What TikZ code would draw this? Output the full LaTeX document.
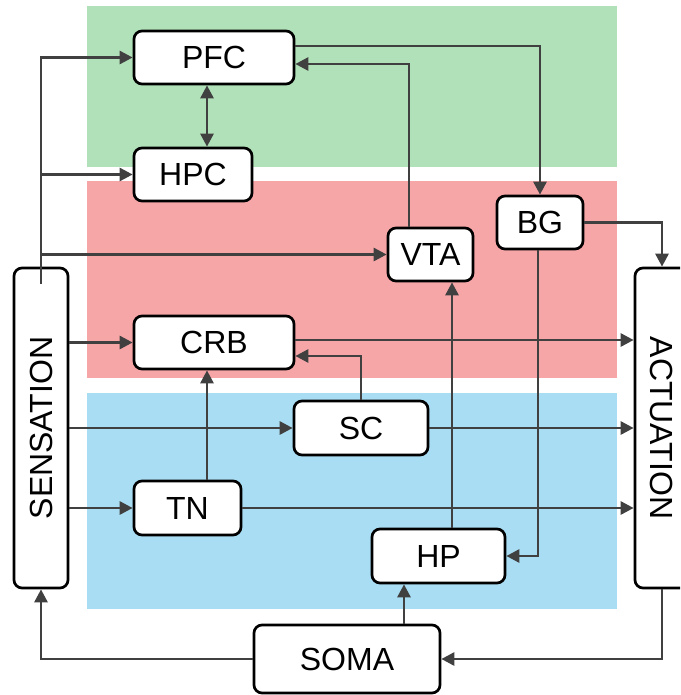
\documentclass[tikz,border=0pt]{standalone}
\usepackage{fontspec}
\setmainfont{Liberation Sans}
\usetikzlibrary{arrows.meta}
\definecolor{bandgreen}{HTML}{B1E1B9}
\definecolor{bandred}{HTML}{F7A6A8}
\definecolor{bandblue}{HTML}{A9DDF3}
\definecolor{wire}{HTML}{404040}
\begin{document}
\begin{tikzpicture}[x=1pt,y=-1pt,
  box/.style={draw=black,line width=2.7pt,rounded corners=8pt,fill=white,inner sep=0pt,
    font=\fontsize{32}{36}\selectfont},
  arr/.style={draw=wire,line width=2.8pt,-{Triangle[length=13pt,width=13pt]}},
  biarr/.style={draw=wire,line width=2.8pt,{Triangle[length=13pt,width=13pt]}-{Triangle[length=13pt,width=13pt]}}]
\useasboundingbox (0,0) rectangle (680,695);
\clip (0,0) rectangle (680,695);
% bands
\fill[bandgreen] (87,6) rectangle (617,167);
\fill[bandred] (87,181) rectangle (617,378);
\fill[bandblue] (87,393) rectangle (617,609);
% nodes
\node[box,minimum width=160pt,minimum height=53pt] (pfc) at (214,57.5) {PFC};
\node[box,minimum width=118pt,minimum height=53pt] (hpc) at (193,174.5) {HPC};
\node[box,minimum width=85pt,minimum height=53pt] (vta) at (430.5,254.5) {VTA};
\node[box,minimum width=86pt,minimum height=53pt] (bg) at (540,222.5) {BG};
\node[box,minimum width=160pt,minimum height=53pt] (crb) at (214,342.5) {CRB};
\node[box,minimum width=134pt,minimum height=54pt] (sc) at (361,428) {SC};
\node[box,minimum width=107pt,minimum height=54pt] (tn) at (187.5,508) {TN};
\node[box,minimum width=133pt,minimum height=54pt] (hp) at (438.5,556) {HP};
\node[box,minimum width=186pt,minimum height=68pt] (soma) at (347,659) {SOMA};
\node[box,minimum width=320pt,minimum height=54pt,rotate=90] (sens) at (41,428) {SENSATION};
\node[box,minimum width=320pt,minimum height=54pt,rotate=-90] (act) at (662,428) {ACTUATION};
% connectors (sens rotated 90: east=top, south=right, west=bottom)
% (act rotated -90: west=top, south=left, east=bottom)
\draw[arr] (sens.east) |- (pfc.west);
\draw[arr] ([yshift=-8pt]sens.east) |- (hpc.west);
\draw[arr] ([yshift=-17pt]sens.east) |- (vta.west);
\draw[arr] (crb.west -| sens.south) -- (crb.west);
\draw[arr] (sc.west -| sens.south) -- (sc.west);
\draw[arr] (tn.west -| sens.south) -- (tn.west);
\coordinate (ph) at ([xshift=-7pt]pfc.south);
\draw[biarr] (ph) -- (ph |- hpc.north);
\draw[arr] ([yshift=11.5pt]pfc.east) -| (bg.north);
\draw[arr] ([xshift=-21.5pt]vta.north) |- ([yshift=-6.5pt]pfc.east);
\draw[arr] (bg.east) -| (act.west);
\draw[arr] ([xshift=-2pt]bg.south) |- (hp.east);
\coordinate (crbo) at ([yshift=2.5pt]crb.east);
\draw[arr] (crbo) -- (crbo -| act.south);
\draw[arr] (sc.north) |- ([yshift=-13.5pt]crb.east);
\draw[arr] (sc.east) -- (sc.east -| act.south);
\draw[arr] (tn.east) -- (tn.east -| act.south);
\coordinate (tnc) at ([xshift=19.5pt]tn.north);
\draw[arr] (tnc) -- (tnc |- crb.south);
\coordinate (hpv) at ([xshift=13.5pt]hp.north);
\draw[arr] (hpv) -- (hpv |- vta.south);
\coordinate (sh) at ([xshift=-34.5pt]hp.south);
\draw[arr] (sh |- soma.north) -- (sh);
\draw[arr] (soma.west) -| (sens.west);
\draw[arr] (act.east) |- (soma.east);
\end{tikzpicture}
\end{document}
